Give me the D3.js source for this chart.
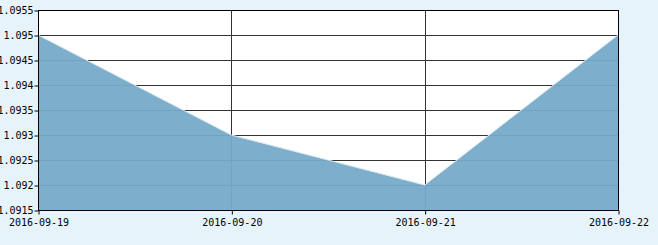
<!DOCTYPE html>
<html>
<head>
<meta charset="utf-8">
<script src="https://cdn.jsdelivr.net/npm/d3@7"></script>
<style>
  html, body { margin: 0; padding: 0; background: #e7f3fb; }
  svg { display: block; }
</style>
</head>
<body>
<div id="chart"></div>
<script>
// data
var dates = ["2016-09-19", "2016-09-20", "2016-09-21", "2016-09-22"];
var values = [1.095, 1.093, 1.092, 1.095];
var yTicks = [1.0915, 1.092, 1.0925, 1.093, 1.0935, 1.094, 1.0945, 1.095, 1.0955];

var width = 658, height = 245;
var margin = {top: 10, right: 40, bottom: 35, left: 38};
var font = "'DejaVu Sans Mono', 'Liberation Mono', monospace";

var svg = d3.select("#chart").append("svg")
  .attr("width", width)
  .attr("height", height);

var x = d3.scalePoint()
  .domain(dates)
  .range([margin.left, width - margin.right]);

var y = d3.scaleLinear()
  .domain([1.0915, 1.0955])
  .range([height - margin.bottom, margin.top]);

// plot background
svg.append("rect")
  .attr("x", margin.left)
  .attr("y", margin.top)
  .attr("width", width - margin.right - margin.left)
  .attr("height", height - margin.bottom - margin.top)
  .attr("fill", "#fff");

// grid
svg.append("g").selectAll("line")
  .data(yTicks)
  .join("line")
  .attr("x1", margin.left)
  .attr("x2", width - margin.right)
  .attr("y1", d => Math.round(y(d)) + 0.5)
  .attr("y2", d => Math.round(y(d)) + 0.5)
  .attr("stroke", "#333");

svg.append("g").selectAll("line")
  .data(dates)
  .join("line")
  .attr("x1", d => Math.round(x(d)) + 0.5)
  .attr("x2", d => Math.round(x(d)) + 0.5)
  .attr("y1", margin.top)
  .attr("y2", height - margin.bottom)
  .attr("stroke", "#333");

var data = dates.map((d, i) => ({date: d, value: values[i]}));

var area = d3.area()
  .x(d => x(d.date))
  .y0(height - margin.bottom)
  .y1(d => y(d.value));

svg.append("path")
  .datum(data)
  .attr("d", area)
  .attr("fill", "#76aac8")
  .attr("fill-opacity", 0.95);

svg.append("path")
  .datum(data)
  .attr("d", d3.line().x(d => x(d.date)).y(d => y(d.value)))
  .attr("fill", "none")
  .attr("stroke", "#dceaf3")
  .attr("stroke-width", 1);

// frame
svg.append("rect")
  .attr("x", margin.left + 0.5)
  .attr("y", margin.top + 0.5)
  .attr("width", width - margin.right - margin.left)
  .attr("height", height - margin.bottom - margin.top)
  .attr("fill", "none")
  .attr("stroke", "#000");

// axes
var yAxis = d3.axisLeft(y)
  .tickValues(yTicks)
  .tickSize(4)
  .tickFormat(d3.format(".4~f"));

var gy = svg.append("g")
  .attr("transform", "translate(" + (margin.left + 0.5) + ",0.5)")
  .call(yAxis)
  .attr("font-family", font)
  .attr("font-size", 10);
gy.select(".domain").remove();
gy.selectAll("line").attr("stroke", "#000");
gy.selectAll("text").attr("x", -5).attr("fill", "#000");

var xAxis = d3.axisBottom(x).tickSize(4).tickSizeOuter(0);
var gx = svg.append("g")
  .attr("transform", "translate(0.5," + (height - margin.bottom + 0.5) + ")")
  .call(xAxis)
  .attr("font-family", font)
  .attr("font-size", 10);
gx.select(".domain").remove();
gx.selectAll("line").attr("stroke", "#000");
gx.selectAll("text").attr("dy", "0.85em").attr("fill", "#000");
</script>
</body>
</html>
